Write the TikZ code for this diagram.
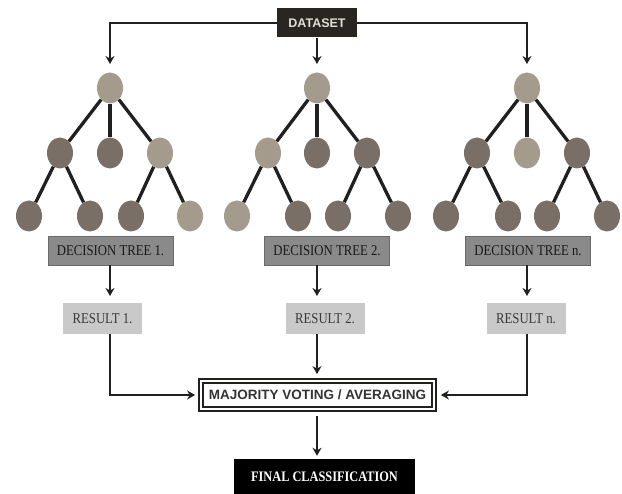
\documentclass[tikz,border=0pt]{standalone}
\usepackage{fontspec}
\setmainfont{Liberation Serif}
\newfontfamily\dssans{Liberation Sans}
\newfontfamily\condserif[FakeStretch=0.85]{Liberation Serif}
\usetikzlibrary{arrows.meta,shapes.geometric}
\definecolor{lightnode}{RGB}{165,155,140}
\definecolor{darknode}{RGB}{121,111,103}
\definecolor{edgecol}{RGB}{34,32,30}
\definecolor{dtfill}{RGB}{138,138,138}
\definecolor{dtdraw}{RGB}{105,105,105}
\definecolor{resfill}{RGB}{201,201,201}
\definecolor{dsfill}{RGB}{40,37,34}
\definecolor{dstext}{RGB}{225,222,215}
\begin{document}
\begin{tikzpicture}[x=1pt,y=-1pt,
  tn/.style={ellipse, minimum width=26pt, minimum height=31pt, inner sep=0pt},
  lt/.style={tn, fill=lightnode},
  dk/.style={tn, fill=darknode},
  tedge/.style={draw=edgecol, line width=3.3pt},
  conn/.style={draw=edgecol, line width=2.8pt, -{Stealth[length=8pt,width=9pt]}},
  dsbox/.style={fill=dsfill, text=dstext, minimum width=80pt, minimum height=29pt, inner sep=0pt, font=\dssans\bfseries\fontsize{12.5}{12.5}\selectfont},
  dtbox/.style={fill=dtfill, draw=dtdraw, line width=0.8pt, text=black!90, minimum width=125pt, minimum height=29pt, inner sep=0pt, font=\condserif\fontsize{15}{15}\selectfont},
  resbox/.style={fill=resfill, text=black!78, minimum width=79pt, minimum height=31pt, inner sep=0pt, font=\condserif\fontsize{15}{15}\selectfont},
  majbox/.style={draw=edgecol, line width=1.8pt, double=white, double distance=2.2pt, fill=white, text=black!80, minimum width=233pt, minimum height=28pt, inner sep=0pt, font=\dssans\bfseries\fontsize{13.5}{13.5}\selectfont},
  finbox/.style={fill=black, text=white, minimum width=181pt, minimum height=35pt, inner sep=0pt, font=\condserif\bfseries\fontsize{14.5}{14.5}\selectfont}
]
\useasboundingbox (0,0) rectangle (622,494);

% dataset
\node[dsbox] (ds) at (317,23) {DATASET};
\coordinate (t1) at (110,64);
\coordinate (t2) at (317,64);
\coordinate (t3) at (527,64);
\draw[conn] (ds.west) -| (t1);
\draw[conn] (ds.south) -- (t2);
\draw[conn] (ds.east) -| (t3);

% trees (root, L2 left/mid/right, L3 four leaves)
\node[lt] (Ar) at (110,88) {};
\node[dk] (Aa) at (60,153) {};
\node[dk] (Ab) at (110,153) {};
\node[lt] (Ac) at (160,153) {};
\node[dk] (Ad) at (29,216) {};
\node[dk] (Ae) at (90,216) {};
\node[dk] (Af) at (131,216) {};
\node[lt] (Ag) at (190,216) {};

\node[lt] (Br) at (317,88) {};
\node[lt] (Ba) at (268,153) {};
\node[dk] (Bb) at (317,153) {};
\node[dk] (Bc) at (367,153) {};
\node[lt] (Bd) at (237,216) {};
\node[dk] (Be) at (298,216) {};
\node[dk] (Bf) at (338,216) {};
\node[dk] (Bg) at (398,216) {};

\node[lt] (Cr) at (527,88) {};
\node[dk] (Ca) at (477,153) {};
\node[lt] (Cb) at (527,153) {};
\node[dk] (Cc) at (577,153) {};
\node[dk] (Cd) at (446,216) {};
\node[dk] (Ce) at (508,216) {};
\node[dk] (Cf) at (547,216) {};
\node[dk] (Cg) at (607,216) {};

\foreach \t in {A,B,C}{
  \draw[tedge] (\t r) -- (\t a);
  \draw[tedge] (\t r) -- (\t b);
  \draw[tedge] (\t r) -- (\t c);
  \draw[tedge] (\t a) -- (\t d);
  \draw[tedge] (\t a) -- (\t e);
  \draw[tedge] (\t c) -- (\t f);
  \draw[tedge] (\t c) -- (\t g);
}

% decision tree boxes
\node[dtbox] (dt1) at (110.5,250.5) {DECISION TREE 1.};
\node[dtbox] (dt2) at (327,250.5) {DECISION TREE 2.};
\node[dtbox] (dt3) at (528,250.5) {DECISION TREE n.};

% results
\node[resbox] (rs1) at (102.5,318.5) {RESULT 1.};
\node[resbox] (rs2) at (325,318.5) {RESULT 2.};
\node[resbox] (rs3) at (526,318.5) {RESULT n.};

\coordinate (e1) at (110,296);
\coordinate (e2) at (317,296);
\coordinate (e3) at (527,296);
\draw[conn] (dt1.south -| e1) -- (e1);
\draw[conn] (dt2.south -| e2) -- (e2);
\draw[conn] (dt3.south -| e3) -- (e3);

% majority
\node[majbox] (maj) at (317.5,395) {MAJORITY VOTING / AVERAGING};
\draw[conn, shorten >=5pt] (rs1.south -| e1) |- (maj.west);
\draw[conn, shorten >=6pt] (rs3.south -| e3) |- (maj.east);
\draw[conn, shorten >=6pt] (rs2.south -| e2) -- (maj.north -| e2);

% final
\node[finbox] (fin) at (324.5,476.5) {FINAL CLASSIFICATION};
\draw[conn, shorten <=6pt, shorten >=3pt] (maj.south -| e2) -- (fin.north -| e2);
\end{tikzpicture}
\end{document}
